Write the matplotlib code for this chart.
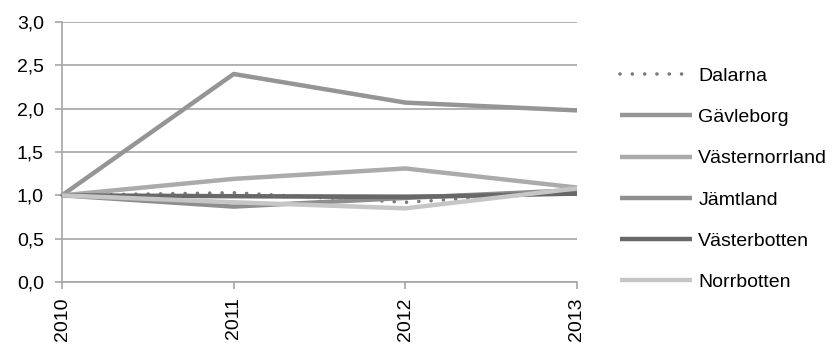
import matplotlib
matplotlib.use("Agg")
import matplotlib.pyplot as plt
from matplotlib.ticker import FuncFormatter

years = ["2010", "2011", "2012", "2013"]
dalarna = [1.0, 1.03, 0.92, 1.04]
gavleborg = [1.0, 2.40, 2.07, 1.98]
vasternorrland = [1.0, 1.19, 1.31, 1.09]
jamtland = [1.0, 0.87, 0.97, 1.06]
vasterbotten = [1.0, 0.99, 0.98, 1.02]
norrbotten = [1.0, 0.92, 0.85, 1.08]

series = [
    ("Dalarna", dalarna, "#7a7a7a", "dot"),
    ("Gävleborg", gavleborg, "#959595", "solid"),
    ("Västernorrland", vasternorrland, "#ababad", "solid"),
    ("Jämtland", jamtland, "#8e8e8e", "solid"),
    ("Västerbotten", vasterbotten, "#686868", "solid"),
    ("Norrbotten", norrbotten, "#c6c6c6", "solid"),
]

plt.rcParams['font.family'] = ['Liberation Sans', 'DejaVu Sans']

fig = plt.figure(figsize=(8.4, 3.47), dpi=100)
ax = fig.add_axes([62/840, 1-282/347, (577-62)/840, (282-22)/347])

x = list(range(len(years)))
for name, vals, col, st in series:
    if st == "dot":
        ax.plot(x, vals, color=col, lw=2.6, linestyle=(0, (0.01, 3.4)),
                dash_capstyle='round', label=name, zorder=3)
    else:
        ax.plot(x, vals, color=col, lw=3.2, label=name, solid_capstyle='butt', zorder=3)

ax.set_xlim(0, 3)
ax.set_ylim(0, 3.0)
ax.set_yticks([0, 0.5, 1.0, 1.5, 2.0, 2.5, 3.0])
ax.yaxis.set_major_formatter(FuncFormatter(lambda v, p: f"{v:.1f}".replace(".", ",")))
ax.set_xticks(x)
ax.set_xticklabels(years, rotation=90)
ax.grid(axis='y', color='#a6a6a6', lw=1.2, zorder=0)
for s in ['top', 'right']:
    ax.spines[s].set_visible(False)
for s in ['left', 'bottom']:
    ax.spines[s].set_color('#a6a6a6')
    ax.spines[s].set_linewidth(1.2)
ax.tick_params(axis='both', colors='#a6a6a6', labelcolor='black', labelsize=14,
               length=5, width=1.2)
ax.tick_params(axis='y', pad=8)
ax.tick_params(axis='x', pad=6)
for l in ax.lines:
    l.set_clip_on(False)

leg = ax.legend(loc='upper left', bbox_to_anchor=(602/840, 1-50/347),
                bbox_transform=fig.transFigure, frameon=False, fontsize=14,
                handlelength=3.75, handletextpad=0.3, labelspacing=1.21)

fig.savefig("out.png", dpi=100)
